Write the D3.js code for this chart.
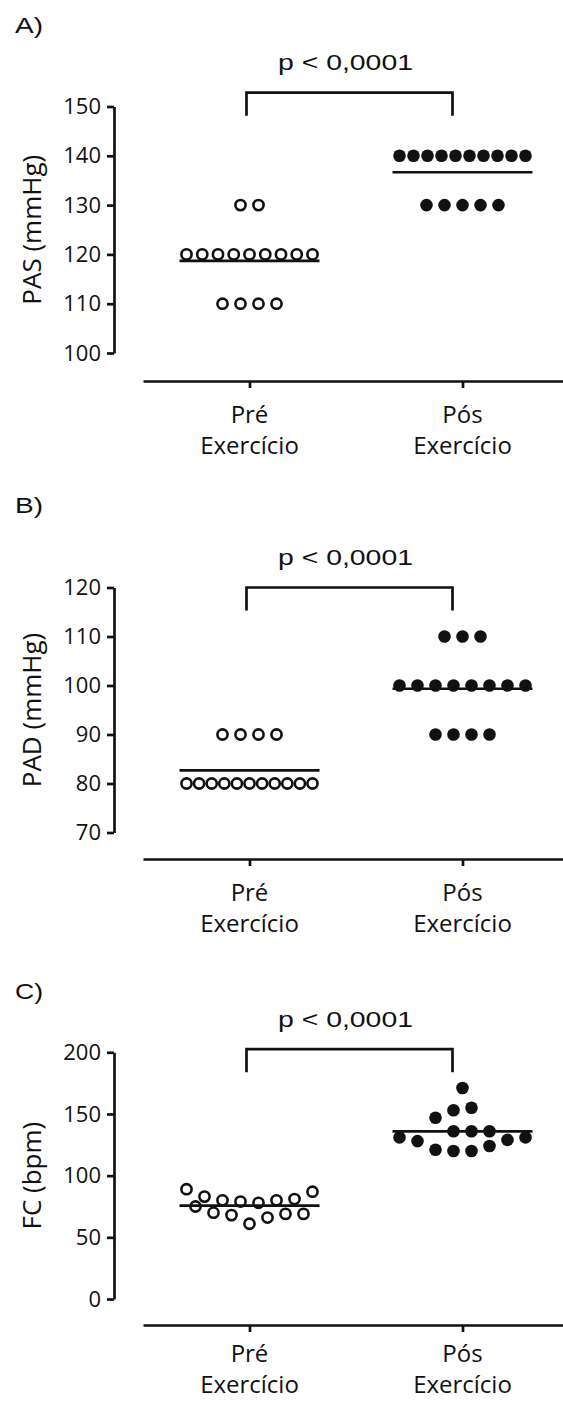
<!DOCTYPE html>
<html>
<head>
<meta charset="utf-8">
<script src="https://cdn.jsdelivr.net/npm/d3@7"></script>
<style>
  html, body { margin: 0; padding: 0; background: #fff; }
  svg { display: block; }
</style>
</head>
<body>
<svg id="chart" width="563" height="1402"></svg>
<script>
// Groups on the x axis (two-line labels)
const categories = ["Pré Exercício", "Pós Exercício"];
const categoryLines = [["Pré", "Exercício"], ["Pós", "Exercício"]];

// A) Systolic pressure (mmHg)
const pasPre = [130, 130, 120, 120, 120, 120, 120, 120, 120, 120, 120, 110, 110, 110, 110];
const pasPos = [140, 140, 140, 140, 140, 140, 140, 140, 140, 140, 130, 130, 130, 130, 130];
const pasTicks = [100, 110, 120, 130, 140, 150];

// B) Diastolic pressure (mmHg)
const padPre = [90, 90, 90, 90, 80, 80, 80, 80, 80, 80, 80, 80, 80, 80, 80];
const padPos = [110, 110, 110, 100, 100, 100, 100, 100, 100, 100, 100, 90, 90, 90, 90];
const padTicks = [70, 80, 90, 100, 110, 120];

// C) Heart rate (bpm)
const fcPre = [61, 66, 68, 69, 70, 69, 75, 78, 79, 80, 80, 81, 83, 87, 89];
const fcPos = [120, 120, 124, 121, 129, 128, 131, 131, 136, 136, 136, 147, 155, 153, 171];
const fcTicks = [0, 50, 100, 150, 200];

const panelLetters = ["A)", "B)", "C)"];
const yTitles = ["PAS (mmHg)", "PAD (mmHg)", "FC (bpm)"];
const pLabels = ["p < 0,0001", "p < 0,0001", "p < 0,0001"];
// level (in axis units) of the significance bracket
const bracketLevels = [152.8, 120, 202.5];

const panels = [
  { letter: panelLetters[0], title: yTitles[0], pre: pasPre, pos: pasPos, ticks: pasTicks, p: pLabels[0], bracket: bracketLevels[0],
    top: 106.5, bottom: 353, axisY: 381, letterY: 33, labelDy: 42 },
  { letter: panelLetters[1], title: yTitles[1], pre: padPre, pos: padPos, ticks: padTicks, p: pLabels[1], bracket: bracketLevels[1],
    top: 587.5, bottom: 832.5, axisY: 859, letterY: 513, labelDy: 42 },
  { letter: panelLetters[2], title: yTitles[2], pre: fcPre, pos: fcPos, ticks: fcTicks, p: pLabels[2], bracket: bracketLevels[2],
    top: 1052.3, bottom: 1299, axisY: 1325, letterY: 999, labelDy: 37 }
];

const INK = "#111";
const SANS = "'Open Sans', sans-serif";
const ARIAL = "'Liberation Sans', Arial, sans-serif";
const yAxisX = 114;

const svg = d3.select("#chart");
svg.append("rect").attr("width", 563).attr("height", 1402).attr("fill", "#fff");

const x = d3.scalePoint().domain(categories).range([143, 569]).padding(0.5);

// Scatter layout: values that sit close together vertically share a row;
// each row is centred on its group and filled from the middle outwards.
function scatterLayout(values, y, rowGap = 18.5, step = 18, maxSpan = 126) {
  const order = values.map((v, i) => i).sort((a, b) => values[a] - values[b] || a - b);
  const rows = [];
  let cur = null;
  order.forEach(i => {
    if (cur && Math.abs(y(values[i]) - y(values[cur[0]])) <= rowGap) cur.push(i);
    else { cur = [i]; rows.push(cur); }
  });
  const offsets = new Array(values.length).fill(0);
  rows.forEach(row => {
    row.sort((a, b) => a - b);
    const n = row.length;
    const sp = n > 1 ? Math.min(step, maxSpan / (n - 1)) : 0;
    row.forEach((idx, j) => {
      let slot;
      if (n % 2 === 1) slot = j === 0 ? 0 : (j % 2 === 1 ? Math.ceil(j / 2) : -j / 2);
      else slot = (j % 2 === 0 ? 1 : -1) * (Math.floor(j / 2) + 0.5);
      offsets[idx] = slot * sp;
    });
  });
  return values.map((v, i) => ({ value: v, dx: offsets[i] }));
}

panels.forEach(pn => {
  const g = svg.append("g");
  const y = d3.scaleLinear()
    .domain([pn.ticks[0], pn.ticks[pn.ticks.length - 1]])
    .range([pn.bottom, pn.top]);

  // panel letter
  g.append("text")
    .attr("x", 15).attr("y", pn.letterY)
    .attr("font-family", ARIAL).attr("font-size", 22)
    .attr("textLength", 28).attr("lengthAdjust", "spacingAndGlyphs")
    .attr("fill", INK)
    .text(pn.letter);

  // y axis
  const yAxis = d3.axisLeft(y).tickValues(pn.ticks).tickSize(7).tickSizeOuter(0).tickPadding(6);
  const ya = g.append("g").attr("transform", `translate(${yAxisX},0)`).call(yAxis);
  ya.select(".domain").attr("stroke", INK).attr("stroke-width", 2.7);
  ya.selectAll(".tick line").attr("stroke", INK).attr("stroke-width", 2.7);
  ya.selectAll(".tick text")
    .attr("font-family", SANS).attr("font-size", 22).attr("fill", INK);

  // y title
  g.append("text")
    .attr("transform", `translate(41,${(pn.top + pn.bottom) / 2}) rotate(-90)`)
    .attr("text-anchor", "middle")
    .attr("font-family", SANS).attr("font-size", 26).attr("fill", INK)
    .text(pn.title);

  // x axis
  const xAxis = d3.axisBottom(x).tickSize(7).tickSizeOuter(0).tickFormat("");
  const xa = g.append("g").attr("transform", `translate(0,${pn.axisY})`).call(xAxis);
  xa.select(".domain").attr("stroke", INK).attr("stroke-width", 2.7);
  xa.selectAll(".tick line").attr("stroke", INK).attr("stroke-width", 2.7);

  categories.forEach((c, i) => {
    const t = g.append("text")
      .attr("text-anchor", "middle")
      .attr("font-family", SANS).attr("font-size", 24).attr("fill", INK);
    categoryLines[i].forEach((line, k) => {
      t.append("tspan").attr("x", x(c)).attr("y", pn.axisY + pn.labelDy + k * 31).text(line);
    });
  });

  // points and means
  const groups = [
    { cat: categories[0], vals: pn.pre, open: true },
    { cat: categories[1], vals: pn.pos, open: false }
  ];
  groups.forEach(gr => {
    const cx = x(gr.cat);
    const pts = scatterLayout(gr.vals, y);
    g.append("g").selectAll("circle").data(pts).join("circle")
      .attr("cx", d => cx + d.dx)
      .attr("cy", d => y(d.value))
      .attr("r", gr.open ? 5.1 : 6.3)
      .attr("fill", gr.open ? "#fff" : INK)
      .attr("stroke", gr.open ? INK : "none")
      .attr("stroke-width", gr.open ? 2.6 : 0);
    const m = d3.mean(gr.vals);
    g.append("line")
      .attr("x1", cx - 70).attr("x2", cx + 70)
      .attr("y1", y(m)).attr("y2", y(m))
      .attr("stroke", INK).attr("stroke-width", 2.7);
  });

  // significance bracket
  const by = y(pn.bracket);
  const bx1 = x(categories[0]) - 3;
  const bx2 = x(categories[1]) - 10;
  g.append("path")
    .attr("d", `M${bx1},${by + 23}V${by}H${bx2}V${by + 23}`)
    .attr("fill", "none").attr("stroke", INK).attr("stroke-width", 2.7);
  g.append("text")
    .attr("x", (bx1 + bx2) / 2 - 4).attr("y", by - 22.7)
    .attr("text-anchor", "middle")
    .attr("font-family", ARIAL).attr("font-size", 22)
    .attr("textLength", 135).attr("lengthAdjust", "spacingAndGlyphs")
    .attr("fill", INK)
    .text(pn.p);
});
</script>
</body>
</html>
